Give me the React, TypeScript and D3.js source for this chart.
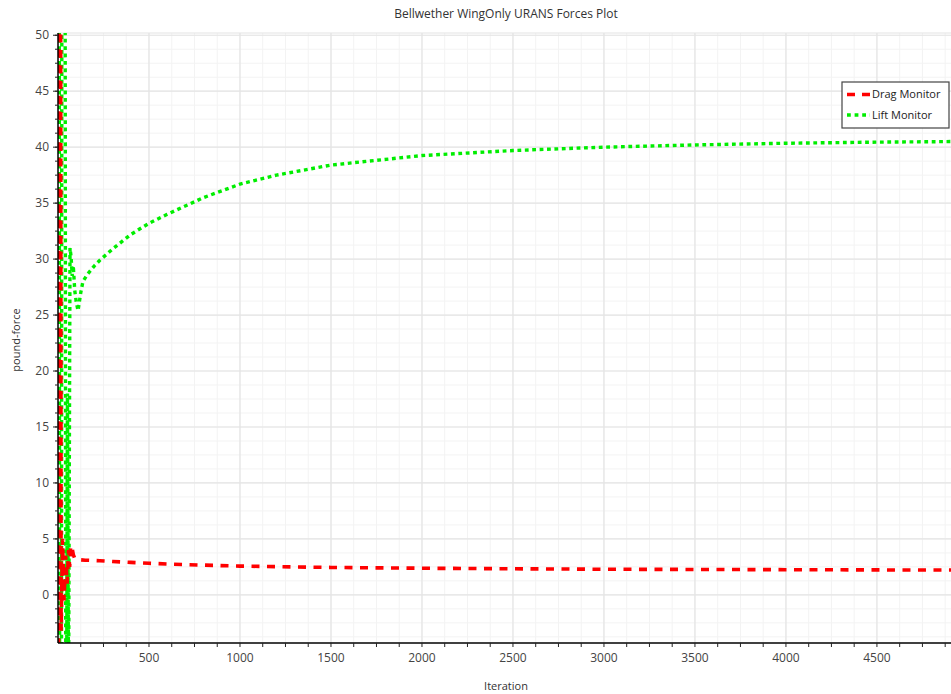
import React from "react";
import * as d3 from "d3";

// Iteration history of the two force monitors (pound-force)
const dragIterations = [0, 8, 17, 25, 33, 42, 50, 58, 64, 70, 76, 84, 92, 110, 150, 230, 300, 400, 500, 700, 1000, 1500, 2000, 2500, 3000, 3500, 4000, 4500, 4907];
const dragValues = [-150, 200, -3.2, 5, -0.5, 3.5, 1, 4, 2.5, 4.4, 4.3, 3.6, 3.25, 3.15, 3.1, 3.05, 2.98, 2.9, 2.82, 2.7, 2.57, 2.45, 2.38, 2.33, 2.29, 2.27, 2.25, 2.23, 2.22];

const liftIterations = [0, 14, 28, 44, 52, 58, 66, 72, 78, 84, 92, 100, 110, 125, 137, 160, 200, 230, 300, 400, 500, 600, 800, 1000, 1200, 1500, 2000, 2500, 3000, 3500, 4000, 4500, 4907];
const liftValues = [250, -150, 250, -30, 18, -10, 31, 30.2, 28.5, 29.4, 27.2, 26.2, 25.4, 27, 28.0, 28.6, 29.4, 29.9, 30.9, 32.2, 33.2, 34.0, 35.5, 36.7, 37.5, 38.4, 39.25, 39.7, 40.0, 40.2, 40.35, 40.45, 40.5];

const xMajorTicks = [500, 1000, 1500, 2000, 2500, 3000, 3500, 4000, 4500];
const yMajorTicks = [0, 5, 10, 15, 20, 25, 30, 35, 40, 45, 50];
const legendLabels = ["Drag Monitor", "Lift Monitor"];

const W = 951;
const H = 694;
const left = 58;
const right = 951;
const top = 33;
const bottom = 643;
const FONT = "'Open Sans', 'DejaVu Sans', sans-serif";

export default function App() {
  const x = d3.scaleLinear().domain([0, 4907]).range([left, right]);
  const y = d3.scaleLinear().domain([-4.3, 50.2]).range([bottom, top]);

  const xMinor = d3.range(125, 4907, 125);
  const yMinor = d3.range(-3.75, 50.2, 1.25);

  const line = d3
    .line<[number, number]>()
    .x((d) => x(d[0]))
    .y((d) => y(d[1]));

  const dragPts = dragIterations.map((it, i) => [it, dragValues[i]] as [number, number]);
  const liftPts = liftIterations.map((it, i) => [it, liftValues[i]] as [number, number]);

  const legendX = 842;
  const legendY = 82;

  return (
    <div style={{ position: "absolute", left: 0, top: 0 }}>
      <svg width={W} height={H} style={{ display: "block", background: "#fff" }} fontFamily={FONT}>
        <defs>
          <clipPath id="plotClip">
            <rect x={left} y={top} width={right - left} height={bottom - top} />
          </clipPath>
        </defs>

        {/* minor grid */}
        {xMinor.map((v) => (
          <line key={"xm" + v} x1={x(v)} x2={x(v)} y1={top} y2={bottom} stroke="#f3f3f3" strokeWidth={1} />
        ))}
        {yMinor.map((v) => (
          <line key={"ym" + v} x1={left} x2={right} y1={y(v)} y2={y(v)} stroke="#f3f3f3" strokeWidth={1} />
        ))}
        {/* major grid */}
        {xMajorTicks.map((v) => (
          <line key={"xg" + v} x1={x(v)} x2={x(v)} y1={top} y2={bottom} stroke="#e4e4e4" strokeWidth={1.2} />
        ))}
        {yMajorTicks.map((v) => (
          <line key={"yg" + v} x1={left} x2={right} y1={y(v)} y2={y(v)} stroke="#e4e4e4" strokeWidth={1.2} />
        ))}
        <line x1={left} x2={right} y1={top} y2={top} stroke="#e4e4e4" strokeWidth={1.2} />

        {/* series */}
        <g clipPath="url(#plotClip)">
          <path d={line(liftPts) || ""} fill="none" stroke="#00ee00" strokeWidth={3.4} strokeDasharray="3.8,3.6" />
          <path d={line(dragPts) || ""} fill="none" stroke="#ff0000" strokeWidth={3.6} strokeDasharray="8,7.5" />
        </g>

        {/* axes */}
        <line x1={left} x2={left} y1={top} y2={bottom} stroke="#000" strokeWidth={1.5} />
        <line x1={left} x2={right} y1={bottom} y2={bottom} stroke="#000" strokeWidth={1.5} />
        {yMinor.map((v) => (
          <line key={"ytm" + v} x1={left - 3} x2={left} y1={y(v)} y2={y(v)} stroke="#222" strokeWidth={1} />
        ))}
        {yMajorTicks.map((v) => (
          <g key={"yt" + v}>
            <line x1={left - 5} x2={left} y1={y(v)} y2={y(v)} stroke="#222" strokeWidth={1} />
            <text x={left - 9} y={y(v)} dy="0.35em" textAnchor="end" fontSize={12} fill="#444">
              {v}
            </text>
          </g>
        ))}
        {xMinor.map((v) => (
          <line key={"xtm" + v} x1={x(v)} x2={x(v)} y1={bottom} y2={bottom + 4} stroke="#222" strokeWidth={1} />
        ))}
        {xMajorTicks.map((v) => (
          <text key={"xt" + v} x={x(v)} y={bottom + 15} dy="0.35em" textAnchor="middle" fontSize={12} fill="#444">
            {v}
          </text>
        ))}

        {/* titles */}
        <text x={506} y={14} dy="0.35em" textAnchor="middle" fontSize={12} fill="#333">
          Bellwether WingOnly URANS Forces Plot
        </text>
        <text x={506} y={686} dy="0.35em" textAnchor="middle" fontSize={11} fill="#333">
          Iteration
        </text>
        <text transform={`translate(16,${340}) rotate(-90)`} dy="0.35em" textAnchor="middle" fontSize={11} fill="#333">
          pound-force
        </text>

        {/* legend */}
        <rect x={legendX} y={legendY} width={107} height={46} fill="#fff" stroke="#444" strokeWidth={1.2} />
        <line x1={legendX + 5} x2={legendX + 28} y1={legendY + 12.5} y2={legendY + 12.5} stroke="#ff0000" strokeWidth={3.6} strokeDasharray="8,7" />
        <text x={legendX + 30} y={legendY + 12.5} dy="0.35em" fontSize={11} fill="#222">
          {legendLabels[0]}
        </text>
        <line x1={legendX + 5} x2={legendX + 28} y1={legendY + 33} y2={legendY + 33} stroke="#00ee00" strokeWidth={3.4} strokeDasharray="3.8,3.8" />
        <text x={legendX + 30} y={legendY + 33} dy="0.35em" fontSize={11} fill="#222">
          {legendLabels[1]}
        </text>
      </svg>
    </div>
  );
}
